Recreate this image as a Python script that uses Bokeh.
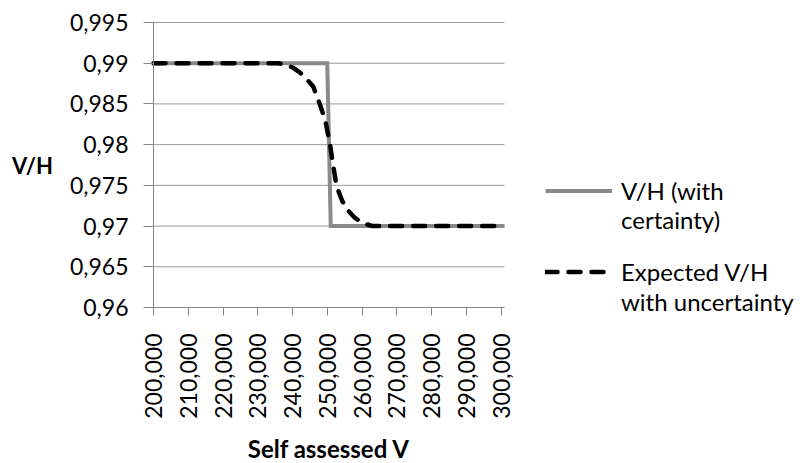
from bokeh.plotting import figure
from bokeh.models import Range1d, FixedTicker, Legend, LegendItem
from bokeh.embed import file_html
from bokeh.resources import INLINE

# ---- data ----
step_x = [200000, 250000, 251000, 301000]
step_y = [0.99, 0.99, 0.97, 0.97]

exp_x = [200000, 236000, 240000, 242000, 244000, 246000, 248000, 249500, 250800,
         251500, 252400, 253300, 254300, 256000, 258000, 260000, 263000, 301000]
exp_y = [0.99, 0.99, 0.9895, 0.9889, 0.9881, 0.9871, 0.9848, 0.9828, 0.9800,
         0.9780, 0.9756, 0.9742, 0.9731, 0.9719, 0.9710, 0.9704, 0.9700, 0.97]

x_ticks = [200000, 210000, 220000, 230000, 240000, 250000, 260000, 270000, 280000, 290000, 300000]
x_tick_labels = ["200,000", "210,000", "220,000", "230,000", "240,000", "250,000",
                 "260,000", "270,000", "280,000", "290,000", "300,000"]
y_ticks = [0.96, 0.965, 0.97, 0.975, 0.98, 0.985, 0.99, 0.995]
y_tick_labels = ["0,96", "0,965", "0,97", "0,975", "0,98", "0,985", "0,99", "0,995"]

series1_lines = ["V/H (with", "certainty)"]
series2_lines = ["Expected V/H", "with uncertainty"]

X_START, X_END = 200000, 301000
Y_MIN, Y_MAX = 0.96, 0.995

FONT = "Lato"
AX = "#868686"
GRAY = "#8a8a8a"

# The frame covers the whole canvas; both axes are pinned (fixed_location) at the
# plotting-area edges, so nothing (legend, tick labels) is clipped.
p = figure(width=802, height=463, output_backend="svg", toolbar_location=None,
           x_range=Range1d(155974, 386750), y_range=Range1d(0.9408421, 0.9977018),
           min_border=0)
p.outline_line_color = None
p.background_fill_color = "white"
p.border_fill_color = "white"

# horizontal gridlines limited to the plotting area
p.segment(x0=X_START, x1=X_END, y0=y_ticks, y1=y_ticks, line_color="#9a9a9a", line_width=1)

r1 = p.line(step_x, step_y, line_color=GRAY, line_width=4, line_join="miter")
r2 = p.line(exp_x, exp_y, line_color="black", line_width=4.5, line_dash="12 11",
            line_cap="round", line_join="round")
r0 = p.line([], [], line_alpha=0)

p.xgrid.visible = False
p.ygrid.visible = False

for ax in (p.xaxis[0], p.yaxis[0]):
    ax.axis_line_color = AX
    ax.major_tick_line_color = AX
    ax.minor_tick_line_color = None
    ax.major_tick_in = 0
    ax.major_label_text_font = FONT
    ax.major_label_text_font_size = "23px"
    ax.major_label_text_color = "black"
    ax.axis_label_text_font = FONT
    ax.axis_label_text_font_style = "bold"
    ax.axis_label_text_color = "black"

p.xaxis.fixed_location = Y_MIN
p.xaxis.bounds = (X_START, X_END)
p.xaxis.ticker = FixedTicker(ticks=x_ticks)
p.xaxis.major_label_overrides = dict(zip(x_ticks, x_tick_labels))
p.xaxis.major_label_orientation = 1.5707963
p.xaxis.major_tick_out = 8
p.xaxis.major_label_standoff = 18
p.xaxis.axis_label = "Self assessed V"
p.xaxis.axis_label_text_font_size = "24px"
p.xaxis.axis_label_standoff = 12

p.yaxis.fixed_location = X_START
p.yaxis.bounds = (Y_MIN, Y_MAX)
p.yaxis.ticker = FixedTicker(ticks=y_ticks)
p.yaxis.major_label_overrides = dict(zip(y_ticks, y_tick_labels))
p.yaxis.major_tick_out = 10
p.yaxis.major_label_standoff = 15
p.yaxis.axis_label = "V/H"
p.yaxis.axis_label_text_font_size = "22px"
p.yaxis.axis_label_orientation = "horizontal"
p.yaxis.axis_label_standoff = 14

common = dict(orientation="vertical", label_text_font=FONT, label_text_font_size="24px",
              label_text_color="black", glyph_width=67, glyph_height=29, label_height=29,
              label_standoff=9, padding=0, margin=0, border_line_color=None,
              background_fill_alpha=0)

# legend offsets are measured from the frame's bottom-left corner (canvas origin)
leg1 = Legend(items=[LegendItem(label=series1_lines[0], renderers=[r1]),
                     LegendItem(label=series1_lines[1], renderers=[r0])],
              location=(545, 229), spacing=0, **common)
leg2 = Legend(items=[LegendItem(label=series2_lines[0], renderers=[r2]),
                     LegendItem(label=series2_lines[1], renderers=[r0])],
              location=(545, 147), spacing=1, **common)
p.add_layout(leg1, "center")
p.add_layout(leg2, "center")

open("out.html", "w").write(file_html(p, INLINE))
